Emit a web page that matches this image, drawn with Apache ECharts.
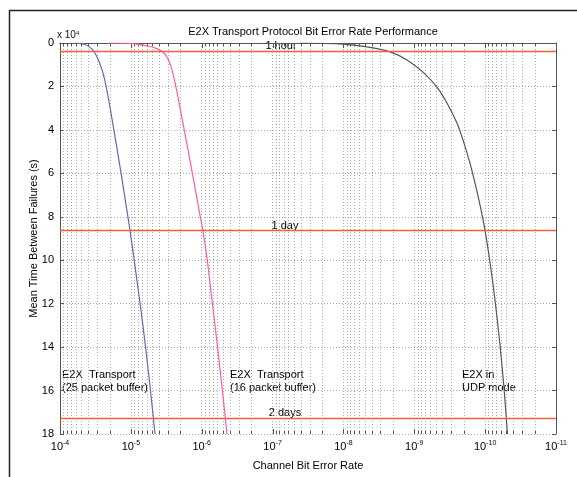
<!DOCTYPE html>
<html>
<head>
<meta charset="utf-8">
<script src="https://cdn.jsdelivr.net/npm/echarts@6/dist/echarts.min.js"></script>
<style>
  html, body { margin: 0; padding: 0; background: #fff; }
  #main { width: 577px; height: 477px; }
</style>
</head>
<body>
<div id="main"></div>
<script>
// curves: [bit error rate, MTBF in units of 1e4 s]
const buf25 = [
  [6.14e-5, 0.0], [4.44e-5, 0.07], [3.53e-5, 0.28], [3.0e-5, 0.64], [2.55e-5, 1.24],
  [2.24e-5, 1.98], [1.97e-5, 2.95], [1.67e-5, 4.33], [1.42e-5, 5.71], [1.21e-5, 7.14],
  [1.03e-5, 8.61], [8.74e-6, 10.27], [7.43e-6, 11.97], [6.32e-6, 13.77], [5.37e-6, 15.79],
  [4.56e-6, 18.0]
];
const buf16 = [
  [2.1e-5, 0.0], [1.03e-5, 0.02], [5.37e-6, 0.16], [4.14e-6, 0.28], [3.41e-6, 0.46],
  [2.99e-6, 0.74], [2.63e-6, 1.24], [2.31e-6, 2.03], [2.03e-6, 2.95], [1.72e-6, 4.19],
  [1.46e-6, 5.43], [1.24e-6, 6.68], [1.06e-6, 7.92], [9.59e-7, 8.66], [8.42e-7, 9.9],
  [7.16e-7, 11.83], [6.09e-7, 13.77], [5.17e-7, 15.84], [4.4e-7, 18.0]
];
const udpMode = [
  [4.1e-8, 0.0], [1.01e-8, 0.05], [4.65e-9, 0.18], [2.2e-9, 0.41], [1.27e-9, 0.78],
  [7.54e-10, 1.34], [4.78e-10, 2.03], [3.46e-10, 2.76], [2.5e-10, 3.68], [2.05e-10, 4.47],
  [1.64e-10, 5.52], [1.39e-10, 6.45], [1.18e-10, 7.46], [1.005e-10, 8.61], [8.55e-11, 10.08],
  [7.26e-11, 11.83], [6.17e-11, 13.9], [5.42e-11, 15.88], [4.84e-11, 18.0]
];
// reference times (1 hour, 1 day, 2 days) in 1e4 s
const refTimes = [0.36, 8.64, 17.28];
const refLabels = ['1 hour', '1 day', '2 days'];

// grid / tick positions k x 10^n (k = 1 is a decade)
const xTicks = [];
for (let e = -11; e <= -4; e++) {
  for (let k = 1; k <= 9; k++) {
    if (e === -4 && k > 1) break;
    xTicks.push([k * Math.pow(10, e), k === 1 ? 1 : 0]);
  }
}

const chart = echarts.init(document.getElementById('main'));
const font = 'Liberation Sans, Arial, sans-serif';
const axisColor = '#555';
const gridDot = { color: '#aaa', type: [1, 2], width: 1 };

const xBase = {
  type: 'log', logBase: 10, min: 1e-11, max: 1e-4, interval: 1, inverse: true,
  axisLine: { lineStyle: { color: axisColor } },
  axisTick: { show: false }
};
const yBase = {
  type: 'value', min: 0, max: 18, interval: 2, inverse: true,
  axisLine: { show: true, lineStyle: { color: axisColor } },
  axisTick: { show: true, inside: true, length: 4, lineStyle: { color: axisColor } }
};

chart.setOption({
  animation: false,
  backgroundColor: '#fff',
  textStyle: { fontFamily: font },
  title: {
    text: 'E2X Transport Protocol Bit Error Rate Performance',
    left: 308, top: 21, textAlign: 'center',
    textStyle: { fontSize: 11, fontWeight: 'normal', color: '#000', fontFamily: font }
  },
  grid: { left: 60, right: 21, top: 43, bottom: 43 },
  xAxis: [
    Object.assign({}, xBase, {
      position: 'bottom',
      name: 'Channel Bit Error Rate', nameLocation: 'middle', nameGap: 26,
      nameTextStyle: { fontSize: 11, color: '#000' },
      splitLine: { show: true, lineStyle: gridDot },
      axisLabel: {
        margin: 6,
        formatter: v => '{b|10}{s|' + Math.round(Math.log10(v)) + '}',
        rich: {
          b: { fontSize: 11, color: '#000', fontFamily: font },
          s: { fontSize: 7, color: '#000', fontFamily: font, verticalAlign: 'top', padding: [0, 0, 6, 0] }
        }
      }
    }),
    Object.assign({}, xBase, {
      position: 'top', splitLine: { show: false }, axisLabel: { show: false }
    })
  ],
  yAxis: [
    Object.assign({}, yBase, {
      position: 'left',
      name: 'Mean Time Between Failures (s)', nameLocation: 'middle', nameGap: 21,
      nameMoveOverlap: false,
      nameTextStyle: { fontSize: 11, color: '#000' },
      splitLine: { show: true, lineStyle: gridDot },
      axisLabel: { fontSize: 11, color: '#000', margin: 6 }
    }),
    Object.assign({}, yBase, {
      position: 'right', splitLine: { show: false }, axisLabel: { show: false }
    })
  ],
  graphic: [
    { type: 'line', shape: { x1: 9.5, y1: 10, x2: 9.5, y2: 477 }, style: { stroke: '#222', lineWidth: 1.5 } },
    { type: 'line', shape: { x1: 9, y1: 10.5, x2: 577, y2: 10.5 }, style: { stroke: '#222', lineWidth: 1.5 } },
    { type: 'text', left: 57, top: 30, style: { rich: { b: { fontSize: 10, fill: '#111' }, s: { fontSize: 6, fill: '#111', verticalAlign: 'top', padding: [0, 0, 5, 0] } }, text: '{b|x 10}{s|4}', font: '10px ' + font } },
    { type: 'text', x: 281, y: 46, style: { text: refLabels[0], fontSize: 11, fill: '#000', align: 'center', verticalAlign: 'middle', fontFamily: font } },
    { type: 'text', x: 285, y: 226, style: { text: refLabels[1], fontSize: 11, fill: '#000', align: 'center', verticalAlign: 'middle', fontFamily: font } },
    { type: 'text', x: 285, y: 413, style: { text: refLabels[2], fontSize: 11, fill: '#000', align: 'center', verticalAlign: 'middle', fontFamily: font } },
    { type: 'text', x: 62, y: 368, style: { text: 'E2X  Transport\n(25 packet buffer)', fontSize: 11, lineHeight: 13, fill: '#000', fontFamily: font } },
    { type: 'text', x: 230, y: 368, style: { text: 'E2X  Transport\n(16 packet buffer)', fontSize: 11, lineHeight: 13, fill: '#000', fontFamily: font } },
    { type: 'text', x: 462, y: 368, style: { text: 'E2X in\nUDP mode', fontSize: 11, lineHeight: 13, fill: '#000', fontFamily: font } }
  ],
  series: [
    {
      type: 'custom', name: 'xgrid', silent: true, z: 1, clip: false,
      encode: { x: 0 },
      data: xTicks,
      renderItem: (params, api) => {
        const v = api.value(0);
        const major = api.value(1) === 1;
        const b = api.coord([v, 18]);
        const t = api.coord([v, 0]);
        const x = Math.round(b[0]) + 0.5;
        const len = major ? 5 : 3;
        const children = [
          { type: 'line', shape: { x1: x, y1: b[1], x2: x, y2: b[1] - len }, style: { stroke: axisColor, lineWidth: 1 } },
          { type: 'line', shape: { x1: x, y1: t[1], x2: x, y2: t[1] + len }, style: { stroke: axisColor, lineWidth: 1 } }
        ];
        if (!major) {
          children.unshift({ type: 'line', shape: { x1: x, y1: t[1], x2: x, y2: b[1] }, style: { stroke: '#aaa', lineWidth: 1, lineDash: [1, 2] } });
        }
        return { type: 'group', children: children };
      }
    },
    {
      type: 'line', name: 'ref', data: [], z: 3,
      markLine: {
        silent: true, symbol: 'none', label: { show: false },
        lineStyle: { color: '#f2603e', width: 1.3, type: 'solid' },
        data: refTimes.map(t => ({ yAxis: t }))
      }
    },
    { type: 'line', name: '25 packet buffer', data: buf25, smooth: 0.3, symbol: 'none', z: 4, lineStyle: { color: '#6468b4', width: 1.2 } },
    { type: 'line', name: '16 packet buffer', data: buf16, smooth: 0.3, symbol: 'none', z: 4, lineStyle: { color: '#ff5aa8', width: 1.2 } },
    { type: 'line', name: 'UDP mode', data: udpMode, smooth: 0.3, symbol: 'none', z: 4, lineStyle: { color: '#555', width: 1.2 } }
  ]
});
</script>
</body>
</html>
